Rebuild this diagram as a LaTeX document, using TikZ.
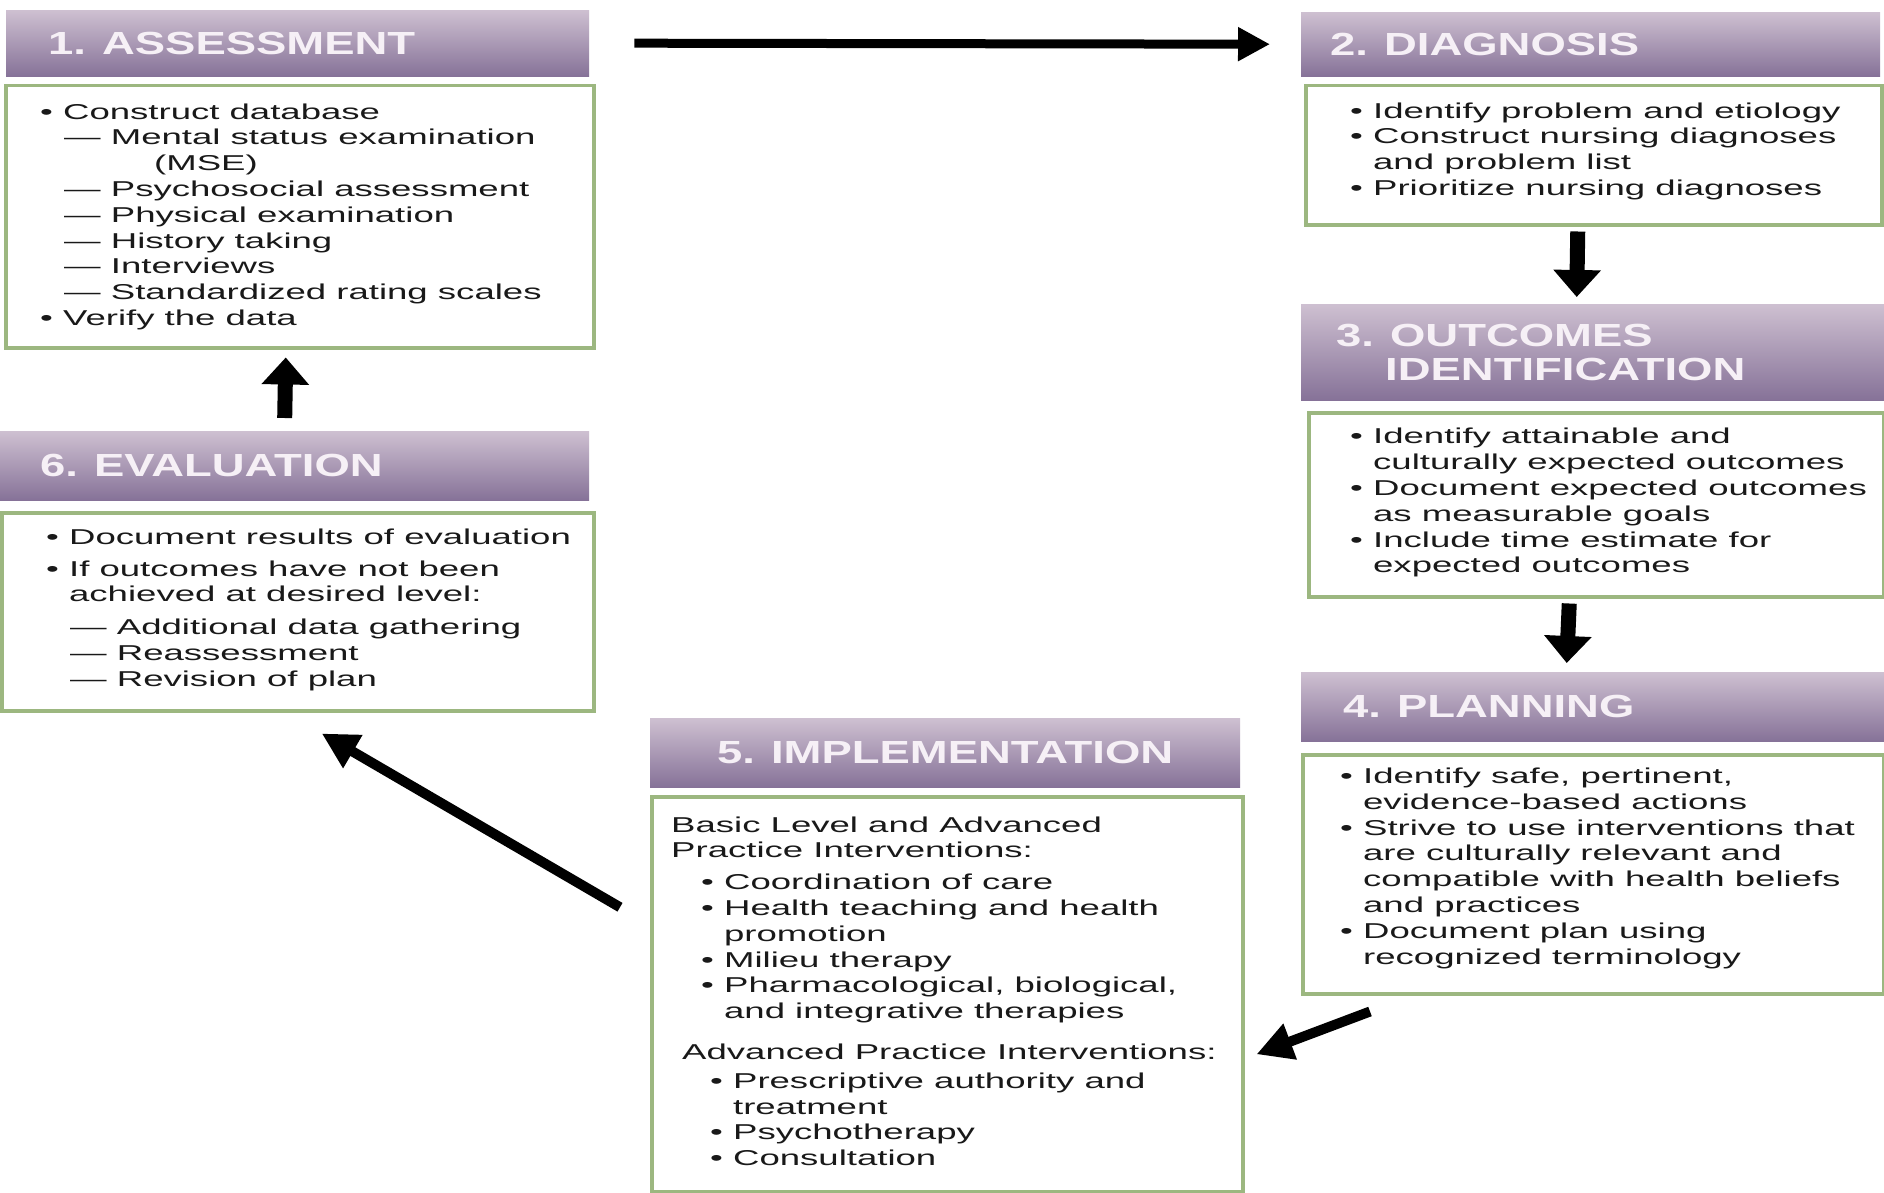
\documentclass[tikz,border=0pt]{standalone}
\usepackage{fontspec}
\setmainfont{Liberation Sans}
\newfontfamily\bodyfont[FakeStretch=1.7]{Liberation Sans}
\newfontfamily\headfont[FakeStretch=1.42]{Liberation Sans}
\usetikzlibrary{positioning,arrows.meta}
\definecolor{headtop}{RGB}{206,192,209}
\definecolor{headbot}{RGB}{134,114,152}
\definecolor{boxgreen}{RGB}{156,183,128}
\definecolor{headtext}{RGB}{246,240,246}

\begin{document}
\begin{tikzpicture}[x=1pt,y=-1pt,
	head/.style={anchor=north west, top color=headtop, bottom color=headbot, text=headtext, align=left, inner ysep=0pt, font=\headfont\bfseries\fontsize{32}{34}\selectfont},
	body/.style={anchor=north west, draw=boxgreen, line width=3.5pt, fill=white},
	items/.style={anchor=west, inner sep=0pt, align=left, text=black!90, font=\bodyfont\fontsize{21.5}{25.8}\selectfont},
	flow/.style={line width=9pt, -{Triangle[length=32pt,width=32pt]}},
	fat/.style={line width=15pt, -{Triangle[length=27pt,width=46pt]}},
	slant/.style={line width=10pt, -{Triangle[length=36pt,width=36pt]}}]
	
	\useasboundingbox (0,0) rectangle (1884,1193);
	\fill[white] (0,0) rectangle (1884,1193);
	
	\node[head, minimum height=66pt, inner xsep=42pt, text width=499pt] (assess) at (6,10) {1. ASSESSMENT};
	\node[head, minimum height=64pt, inner xsep=29pt, text width=521pt] (diag) at (1301,12) {2. DIAGNOSIS};
	\node[head, minimum height=96pt, inner xsep=35pt, text width=513pt] (outhead) at (1301,304) {3. OUTCOMES\\\hspace*{49pt}IDENTIFICATION};
	\node[head, minimum height=69pt, inner xsep=42pt, text width=499pt] (planhead) at (1301,672) {4. PLANNING};
	\node[head, minimum height=69pt, inner xsep=10pt, text width=570pt, align=center] (implhead) at (650,718) {5. IMPLEMENTATION};
	\node[head, minimum height=69pt, inner xsep=40pt, text width=509pt] (evalhead) at (0,431) {6. EVALUATION};
	
	\node[body, minimum width=588pt, minimum height=262pt] (assessbody) at (4,84) {};
	\node[body, minimum width=576pt, minimum height=139pt] (diagbody) at (1304,84) {};
	\node[body, minimum width=575pt, minimum height=184pt] (outbody) at (1307,411) {};
	\node[body, minimum width=581pt, minimum height=239pt] (planbody) at (1301,753) {};
	\node[body, minimum width=591pt, minimum height=395pt] (implbody) at (650,795) {};
	\node[body, minimum width=592pt, minimum height=198pt] (evalbody) at (0,511) {};
	
	\node[items] (assesslist) at ([xshift=36pt]assessbody.west) {%
		• Construct database\\
		\hspace*{24pt}— Mental status examination\\
		\hspace*{114pt}(MSE)\\
		\hspace*{24pt}— Psychosocial assessment\\
		\hspace*{24pt}— Physical examination\\
		\hspace*{24pt}— History taking\\
		\hspace*{24pt}— Interviews\\
		\hspace*{24pt}— Standardized rating scales\\
		• Verify the data};
	\node[items] (diaglist) at ([xshift=46pt,yshift=4pt]diagbody.west) {%
		• Identify problem and etiology\\
		• Construct nursing diagnoses\\
		\phantom{• }and problem list\\
		• Prioritize nursing diagnoses};
	\node[items] (outlist) at ([xshift=43pt,yshift=2pt]outbody.west) {%
		• Identify attainable and\\
		\phantom{• }culturally expected outcomes\\
		• Document expected outcomes\\
		\phantom{• }as measurable goals\\
		• Include time estimate for\\
		\phantom{• }expected outcomes};
	\node[items] (planlist) at ([xshift=39pt,yshift=6pt]planbody.west) {%
		• Identify safe, pertinent,\\
		\phantom{• }evidence-based actions\\
		• Strive to use interventions that\\
		\phantom{• }are culturally relevant and\\
		\phantom{• }compatible with health beliefs\\
		\phantom{• }and practices\\
		• Document plan using\\
		\phantom{• }recognized terminology};
	\node[items] (impllist) at ([xshift=21pt,yshift=3pt]implbody.west) {%
		Basic Level and Advanced\\
		Practice Interventions:\\[6pt]
		\hspace*{30pt}• Coordination of care\\
		\hspace*{30pt}• Health teaching and health\\
		\hspace*{30pt}\phantom{• }promotion\\
		\hspace*{30pt}• Milieu therapy\\
		\hspace*{30pt}• Pharmacological, biological,\\
		\hspace*{30pt}\phantom{• }and integrative therapies\\[15pt]
		\hspace*{11pt}Advanced Practice Interventions:\\[3pt]
		\hspace*{39pt}• Prescriptive authority and\\
		\hspace*{39pt}\phantom{• }treatment\\
		\hspace*{39pt}• Psychotherapy\\
		\hspace*{39pt}• Consultation};
	\node[items] (evallist) at ([xshift=46pt,yshift=2pt]evalbody.west) {%
		• Document results of evaluation\\[6pt]
		• If outcomes have not been\\
		\phantom{• }achieved at desired level:\\[7pt]
		\hspace*{24pt}— Additional data gathering\\
		\hspace*{24pt}— Reassessment\\
		\hspace*{24pt}— Revision of plan};
	
	\draw[flow] ([xshift=45pt]assess.east) -- ([xshift=-31pt]diag.west);
	\draw[fat] ([xshift=-16pt,yshift=-5pt]diagbody.south) -- ([xshift=-16pt,yshift=7pt]outhead.north);
	\draw[fat] ([xshift=-27pt,yshift=-5pt]outbody.south) -- ([xshift=-26pt,yshift=9pt]planhead.north);
	\draw[slant] ([xshift=69pt,yshift=-16pt]planbody.south west) -- ([xshift=12pt,yshift=-60pt]implbody.east);
	\draw[slant] ([xshift=-30pt,yshift=87pt]implbody.west) -- ([xshift=24pt,yshift=-21pt]evalbody.south);
	\draw[fat] ([xshift=-10pt,yshift=13pt]evalhead.north) -- ([xshift=-14pt,yshift=-8pt]assessbody.south);
\end{tikzpicture}
\end{document}
